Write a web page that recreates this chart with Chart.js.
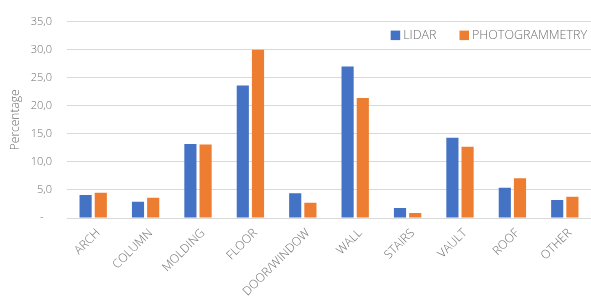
<!DOCTYPE html>
<html>
<head>
<meta charset="utf-8">
<script src="https://cdn.jsdelivr.net/npm/chart.js@4/dist/chart.umd.min.js"></script>
<style>
  html, body { margin: 0; padding: 0; background: #fff; }
  #wrap { width: 591px; height: 299px; }
</style>
</head>
<body>
<div id="wrap"><canvas id="chart" width="591" height="299"></canvas></div>
<script>
const categories = ['ARCH', 'COLUMN', 'MOLDING', 'FLOOR', 'DOOR/WINDOW', 'WALL', 'STAIRS', 'VAULT', 'ROOF', 'OTHER'];
const lidar = [4.1, 2.9, 13.2, 23.6, 4.4, 27.0, 1.8, 14.3, 5.4, 3.2];
const photogrammetry = [4.5, 3.6, 13.1, 30.0, 2.7, 21.4, 0.9, 12.7, 7.1, 3.8];
const yTickLabels = ['-   ', '5,0', '10,0', '15,0', '20,0', '25,0', '30,0', '35,0'];

Chart.defaults.font.family = '"Open Sans", sans-serif';
Chart.defaults.font.weight = 300;
Chart.defaults.color = '#6f6f6f';

// legend sits inside the plot, top right, like the Excel original
const cornerLegend = {
    id: 'cornerLegend',
    afterDraw(chart) {
        const { ctx, chartArea } = chart;
        ctx.save();
        ctx.font = '300 12.5px "Open Sans", sans-serif';
        ctx.textBaseline = 'middle';
        ctx.textAlign = 'left';
        let x = chartArea.right - 4;
        const y = chartArea.top + 14;
        chart.data.datasets.slice().reverse().forEach(ds => {
            const w = ctx.measureText(ds.label).width;
            x -= w;
            ctx.fillStyle = '#6f6f6f';
            ctx.fillText(ds.label, x, y);
            x -= 12.5;
            ctx.fillStyle = ds.backgroundColor;
            ctx.fillRect(x, y - 5, 9.5, 9.5);
            x -= 23;
        });
        ctx.restore();
    }
};

new Chart(document.getElementById('chart').getContext('2d'), {
    type: 'bar',
    data: {
        labels: categories,
        datasets: [
            { label: 'LIDAR', data: lidar, backgroundColor: '#4472C4', categoryPercentage: 0.58, barPercentage: 0.8 },
            { label: 'PHOTOGRAMMETRY', data: photogrammetry, backgroundColor: '#ED7D31', categoryPercentage: 0.58, barPercentage: 0.8 }
        ]
    },
    options: {
        responsive: false,
        animation: false,
        layout: { padding: { top: 12, right: 0, left: 0, bottom: 0 } },
        plugins: { legend: { display: false }, tooltip: { enabled: false } },
        scales: {
            x: {
                grid: { display: false, drawTicks: false },
                border: { color: '#d9d9d9' },
                ticks: { minRotation: 45, maxRotation: 45, padding: 8, labelOffset: 5, font: { size: 12 }, autoSkip: false },
                afterFit: s => { s.height = 81; }
            },
            y: {
                min: 0, max: 35,
                grid: { color: '#d9d9d9', drawTicks: false },
                border: { display: false },
                ticks: { stepSize: 5, padding: 15, font: { size: 11 }, callback: (v, i) => yTickLabels[i] },
                title: { display: true, text: 'Percentage', font: { size: 12 }, padding: { top: 8 } },
                afterFit: s => { s.width = 67; }
            }
        }
    },
    plugins: [cornerLegend]
});
</script>
</body>
</html>
